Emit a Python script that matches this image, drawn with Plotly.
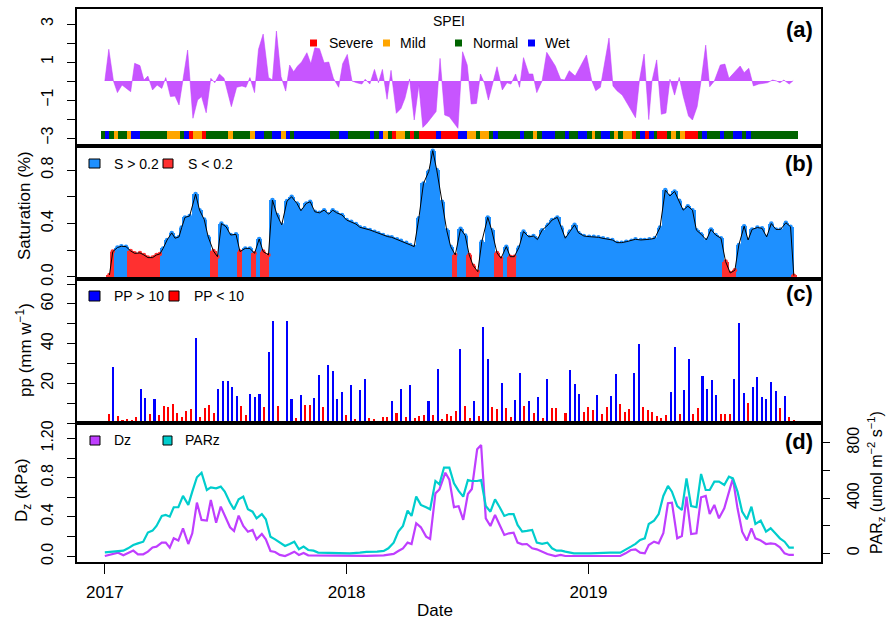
import pandas as pd
import plotly.graph_objects as go
from plotly.subplots import make_subplots

T0 = pd.Timestamp("2017-01-01")
DAY_MS = 86400000

def to_dates(days):
    return [T0 + pd.Timedelta(days=float(d)) for d in days]

# ---------------- (a) SPEI (days since 2017-01-01, value) ----------------
spei_day = [0, 6, 13, 19, 26, 33, 39, 45, 53, 59, 65, 72, 79, 86, 92, 99, 106, 112, 125, 133,
            140, 146, 153, 160, 166, 173, 180, 191, 199, 207, 213, 219, 226, 232, 239, 247, 253, 259,
            266, 273, 279, 285, 291, 297, 305, 311, 317, 324, 331, 338, 345, 353, 359, 366, 373, 380,
            388, 393, 400, 407, 413, 419, 426, 432, 440, 447, 453, 460, 467, 474, 480, 486, 494, 500,
            506, 513, 520, 527, 533, 540, 547, 553, 561, 567, 573, 579, 592, 600, 607, 613, 620, 626,
            632, 640, 646, 652, 660, 667, 680, 688, 694, 701, 710, 727, 735, 741, 748, 761, 767, 773,
            781, 789, 801, 807, 814, 821, 826, 833, 840, 847, 853, 860, 867, 873, 881, 887, 894, 900,
            907, 913, 920, 929, 936, 942, 950, 959, 965, 972, 979, 987, 1000, 1008, 1014, 1019, 1025,
            1033, 1039]
spei_val = [0.0, 1.67, 0.0, -0.61, -0.21, -0.39, -0.56, 0.93, 0.81, 0.05, 0.26, -0.47, -0.21, -0.39,
            0.18, -0.82, -0.79, -1.26, 1.63, -1.96, -1.0, -0.82, -1.67, 0.14, -0.09, 0.37, 0.14, -1.35,
            -0.33, -0.26, -0.33, 0.18, -0.61, 1.67, 2.47, 0.19, 0.05, 2.63, 0.23, -0.53, 0.84, 0.49,
            0.79, 1.0, 1.49, 0.91, 1.75, 1.7, 0.96, 1.0, 0.14, -0.33, 0.91, 1.4, 0.0, -0.09, -0.16,
            0.09, -0.16, 0.61, -0.09, 0.61, -0.96, 0.56, -1.7, -1.44, -0.91, 0.11, -2.05, -0.21, -2.44,
            -2.23, -1.88, -1.61, 1.19, -1.79, -1.88, -2.19, -2.49, 1.54, 0.84, -1.21, -1.18, 0.37,
            -0.12, -1.0, 0.75, -0.47, -0.09, -0.16, 0.37, -0.33, 1.23, 0.37, 0.37, -0.61, 0.0, 1.51,
            0.79, 0.09, 0.05, 0.54, 0.26, 1.37, 0.02, -0.51, -0.33, 2.26, -0.26, -0.51, -0.74, -1.21,
            -1.93, 0.05, 1.42, -2.03, 0.02, 1.11, -1.75, -1.68, 0.09, -0.74, 0.19, -0.79, -1.84, -2.05,
            -1.35, 0.02, 1.89, -0.3, 0.0, 0.84, 0.89, 0.14, 0.44, 0.79, 0.44, 0.67, -0.26, -0.16,
            -0.09, 0.05, 0.0, -0.09, 0.05, -0.16, 0.02]

# SPEI class strip: start day of each run and its class
strip_start = [-6.5, 0, 6.5, 13.6, 19.6, 32.8, 39.3, 52.9, 93.3, 113.4, 119.4, 127, 133, 146.6, 152.7,
               185.9, 193.5, 219.2, 226.7, 240.3, 252.4, 266, 273.6, 279.6, 285.7, 340, 353.7, 367.3,
               400.5, 406.6, 414.2, 420.2, 427.8, 433.8, 439.9, 453.5, 461, 467.1, 474.7, 500.4, 507.9,
               533.6, 547.2, 560.8, 566.9, 580.4, 586.5, 594, 627.3, 633.3, 646.9, 653, 660.5, 680.2,
               695.3, 701.3, 714.9, 728.5, 734.6, 740.6, 748.2, 761.8, 767.8, 773.9, 781.4, 795, 801,
               807.1, 814.6, 820.7, 828.2, 834.2, 847.8, 853.9, 861.4, 867.5, 875, 894.7, 900.7, 908.3,
               927.9, 934, 947.6, 961.2, 967.2, 974.8]
strip_end = 1045.8
strip_cat = ["Normal", "Wet", "Normal", "Mild", "Normal", "Mild", "Wet", "Normal", "Mild", "Normal",
             "Wet", "Severe", "Mild", "Severe", "Normal", "Mild", "Normal", "Mild", "Wet", "Normal",
             "Wet", "Mild", "Wet", "Normal", "Wet", "Normal", "Wet", "Normal", "Wet", "Normal",
             "Wet", "Mild", "Normal", "Severe", "Mild", "Normal", "Severe", "Normal", "Severe", "Wet",
             "Severe", "Wet", "Mild", "Normal", "Mild", "Normal", "Wet", "Normal", "Wet", "Normal",
             "Mild", "Normal", "Wet", "Normal", "Wet", "Normal", "Wet", "Normal", "Mild", "Normal",
             "Wet", "Normal", "Mild", "Normal", "Mild", "Severe", "Normal", "Wet", "Severe", "Wet",
             "Normal", "Severe", "Normal", "Mild", "Normal", "Mild", "Severe", "Normal", "Wet", "Normal",
             "Wet", "Normal", "Wet", "Normal", "Wet", "Normal"]
class_names = ["Severe", "Mild", "Normal", "Wet"]
class_colors = {"Severe": "#FF0000", "Mild": "#FFA500", "Normal": "#006400", "Wet": "#0000FF"}

# ---------------- (b) Saturation ----------------
sat_day = [7, 12, 19, 25, 32, 39, 45, 53, 59, 65, 72, 78, 83, 88, 94, 101, 106, 112, 116, 121, 128,
           137, 143, 150, 156, 164, 170, 176, 183, 190, 198, 204, 212, 219, 226, 233, 239, 247, 253,
           260, 267, 275, 282, 290, 296, 304, 310, 317, 324, 331, 338, 344, 350, 358, 365, 372, 379,
           385, 392, 400, 407, 413, 420, 427, 433, 441, 447, 455, 461, 467, 474, 481, 489, 495, 501,
           509, 516, 522, 529, 537, 544, 550, 556, 563, 569, 578, 584, 592, 598, 606, 612, 618, 625,
           632, 640, 647, 653, 660, 669, 675, 683, 689, 695, 702, 709, 715, 723, 731, 738, 745, 752,
           759, 766, 773, 780, 787, 795, 801, 809, 815, 822, 830, 838, 846, 853, 860, 867, 873, 880,
           887, 893, 900, 908, 915, 922, 930, 937, 944, 951, 957, 965, 971, 977, 985, 992, 999, 1006,
           1013, 1020, 1028, 1035, 1040]
sat_val = [0.015, 0.19, 0.22, 0.23, 0.227, 0.195, 0.177, 0.18, 0.165, 0.145, 0.145, 0.165, 0.172,
           0.214, 0.277, 0.33, 0.29, 0.3, 0.37, 0.446, 0.456, 0.62, 0.5, 0.43, 0.3, 0.194, 0.152,
           0.4, 0.376, 0.314, 0.319, 0.19, 0.214, 0.214, 0.177, 0.284, 0.19, 0.165, 0.576, 0.464,
           0.39, 0.568, 0.6, 0.55, 0.496, 0.55, 0.563, 0.488, 0.48, 0.5, 0.47, 0.5, 0.48, 0.464,
           0.426, 0.414, 0.396, 0.372, 0.364, 0.352, 0.339, 0.327, 0.314, 0.302, 0.297, 0.282,
           0.272, 0.257, 0.24, 0.227, 0.44, 0.70, 0.79, 0.945, 0.8, 0.563, 0.35, 0.227, 0.165,
           0.36, 0.31, 0.165, 0.085, 0.04, 0.264, 0.446, 0.35, 0.18, 0.14, 0.227, 0.152, 0.152,
           0.22, 0.34, 0.3, 0.306, 0.28, 0.35, 0.39, 0.426, 0.446, 0.37, 0.29, 0.34, 0.39, 0.33,
           0.307, 0.302, 0.302, 0.297, 0.289, 0.282, 0.277, 0.257, 0.257, 0.264, 0.272, 0.282,
           0.277, 0.277, 0.282, 0.289, 0.37, 0.65, 0.606, 0.64, 0.57, 0.5, 0.53, 0.5, 0.35, 0.32,
           0.277, 0.356, 0.314, 0.29, 0.115, 0.03, 0.05, 0.24, 0.38, 0.277, 0.356, 0.37, 0.364,
           0.3, 0.4, 0.356, 0.356, 0.406, 0.376, 0.01]
sat_threshold = 0.2

# ---------------- (c) Weekly precipitation ----------------
pp_first_day, pp_last_day = 6, 1040
pp_val = [4.5, 28.4, 3.5, 1.5, 2, 1.5, 3.2, 17, 12.4, 4.5,
          11.9, 4.2, 8.7, 8.2, 9.4, 5, 3, 6, 7.2, 43,
          3, 7.4, 9.2, 4.9, 17.3, 21, 21.2, 18, 13.8, 8.7,
          3.9, 14.6, 12.9, 14.6, 7.9, 35.6, 51.4, 8.6, 1.2, 51.4,
          11.9, 2.4, 14, 9.2, 8.9, 12.4, 24, 7.9, 29, 26.2,
          11.9, 15.8, 4, 19, 1.8, 16.5, 22.4, 2.5, 1.8, 1.2,
          2.9, 3, 10.9, 5.2, 17.3, 3.2, 19, 2.5, 3.4, 4.2,
          11.3, 3.9, 27.4, 2.2, 4.7, 3.5, 5.9, 37.5, 8.4, 2.7,
          11.3, 3.4,
          48.6, 32.1, 7.9, 6.9, 20, 7.6, 2.9, 11.8, 25, 8.4,
          11.3, 4.9, 12.9, 2.5, 22.2, 7.4, 7.7, 1.2, 5.2, 26.9,
          19.5, 14.5, 5.7, 7.9, 6.6, 14.1, 4.4, 7.9, 13.4, 24.9,
          9.6, 5.5, 7.2, 25, 40, 8.1, 6.7, 5.5, 3.4, 2.5,
          3.9, 15.6, 38.2, 4.5, 16.8, 32.1, 4.5, 7.6, 23.7, 17,
          21.8, 14.3, 4.5, 4.5, 4.5, 22.4, 50.4, 15.3, 9.9, 18.3,
          23.4, 12.9, 11.9, 20.5, 16.3, 7.6, 13.4, 3, 1.3]
pp_threshold = 10

# ---------------- (d) Dz and PARz ----------------
dz_day = [0, 20, 28, 43, 50, 58, 65, 72, 78, 86, 92, 98, 104, 111, 118, 126, 132, 139, 146, 154, 160,
          168, 175, 181, 189, 195, 202, 209, 216, 223, 229, 237, 243, 250, 257, 264, 272, 279, 286,
          293, 300, 307, 345, 370, 395, 421, 428, 436, 443, 450, 457, 463, 470, 477, 485, 491, 499,
          505, 514, 520, 527, 534, 541, 548, 554, 562, 568, 575, 582, 589, 596, 603, 610, 617, 623,
          630, 637, 645, 652, 660, 668, 680, 688, 695, 733, 748, 756, 778, 786, 794, 801, 808, 815,
          821, 829, 836, 843, 850, 856, 864, 871, 878, 885, 893, 900, 907, 913, 920, 927, 935, 948,
          955, 962, 969, 976, 982, 990, 998, 1005, 1012, 1019, 1026, 1033, 1040]
dz_val = [0.003, 0.037, 0.01, 0.058, 0.02, 0.02, 0.047, 0.09, 0.098, 0.139, 0.139, 0.088, 0.183,
          0.16, 0.285, 0.125, 0.234, 0.546, 0.37, 0.363, 0.573, 0.342, 0.505, 0.42, 0.295, 0.258,
          0.414, 0.308, 0.25, 0.268, 0.173, 0.227, 0.173, 0.054, 0.044, 0.014, 0.003, 0.024, 0.047,
          0.014, 0.034, 0.01, 0.005, 0.003, 0.005, 0.01, 0.014, 0.024, 0.054, 0.081, 0.139, 0.125,
          0.336, 0.295, 0.2, 0.176, 0.64, 0.68, 0.85, 0.78, 0.5, 0.51, 0.37, 0.634, 0.685, 1.088,
          1.132, 0.386, 0.308, 0.42, 0.319, 0.217, 0.234, 0.24, 0.139, 0.122, 0.125, 0.081, 0.071,
          0.047, 0.024, 0.003, 0.014, 0.003, 0.003, 0.01, 0.003, 0.003, 0.03, 0.064, 0.071, 0.037,
          0.03, 0.115, 0.149, 0.132, 0.234, 0.54, 0.546, 0.183, 0.207, 0.607, 0.227, 0.234, 0.6,
          0.614, 0.43, 0.522, 0.386, 0.488, 0.793, 0.488, 0.25, 0.16, 0.285, 0.183, 0.16, 0.125,
          0.132, 0.125, 0.092, 0.03, 0.014, 0.014]
par_day = [0, 20, 28, 35, 43, 50, 58, 65, 72, 78, 86, 92, 98, 104, 111, 118, 126, 132, 139, 146, 154,
           160, 168, 175, 181, 189, 195, 202, 209, 216, 223, 229, 237, 243, 250, 257, 264, 272, 279,
           286, 293, 300, 307, 315, 322, 345, 370, 385, 395, 411, 421, 428, 436, 443, 450, 457, 463,
           470, 477, 485, 491, 499, 505, 512, 520, 527, 534, 541, 548, 554, 562, 568, 575, 582, 589,
           596, 603, 610, 617, 623, 630, 637, 645, 652, 660, 668, 675, 682, 689, 695, 708, 733, 748,
           763, 778, 786, 794, 801, 808, 815, 821, 829, 836, 843, 850, 856, 864, 871, 878, 885, 893,
           900, 907, 913, 920, 927, 935, 942, 948, 955, 962, 969, 976, 982, 990, 998, 1005, 1012,
           1019, 1026, 1033, 1040]
par_val = [7, 17, 19, 36, 60, 72, 84, 150, 164, 198, 270, 277, 265, 333, 333, 415, 350, 446, 550, 583,
           458, 477, 470, 482, 446, 366, 318, 390, 410, 318, 301, 253, 284, 246, 120, 101, 77, 53, 68,
           84, 29, 48, 24, 19, 5, 0, 0, 5, 10, 12, 17, 36, 77, 157, 198, 309, 270, 410, 350, 333, 318,
           523, 499, 620, 620, 506, 451, 410, 530, 523, 523, 530, 342, 301, 390, 333, 270, 284, 284,
           205, 157, 162, 169, 77, 68, 77, 36, 19, 19, 12, 0, 0, 5, 5, 5, 24, 48, 68, 96, 108, 212,
           236, 284, 415, 487, 446, 342, 313, 542, 342, 333, 574, 458, 458, 518, 518, 494, 554, 542,
           446, 301, 246, 337, 212, 236, 157, 181, 145, 108, 84, 41, 41]

year_ticks = ["2017-01-01", "2018-01-01", "2019-01-01"]
year_labels = ["2017", "2018", "2019"]

# ---------------- figure ----------------
W, H = 888, 621
ML, MR, MT, MB = 77, 67, 9, 59
FONT = "Liberation Sans, Arial, sans-serif"
PURPLE = "#BF3EFF"
TEAL = "#00CDCD"

fig = make_subplots(rows=4, cols=1, shared_xaxes=True, vertical_spacing=0,
                    row_heights=[137, 133, 144, 139],
                    specs=[[{}], [{}], [{}], [{"secondary_y": True}]])

# (a)
strip_bounds = strip_start + [strip_end]
strip_dur = [strip_bounds[i + 1] - strip_bounds[i] for i in range(len(strip_start))]
strip_mid = [strip_start[i] + strip_dur[i] / 2 for i in range(len(strip_start))]
fig.add_trace(go.Bar(x=to_dates(strip_mid), y=[0.41] * len(strip_mid), base=-3.04,
                     width=[d * DAY_MS for d in strip_dur],
                     marker=dict(color=[class_colors[c] for c in strip_cat], line=dict(width=0)),
                     showlegend=False), row=1, col=1)
fig.add_trace(go.Scatter(x=to_dates(spei_day), y=spei_val, mode="lines", fill="tozeroy",
                         fillcolor="rgba(191,62,255,0.88)", line=dict(color="rgba(191,62,255,0.9)", width=0.6),
                         showlegend=False), row=1, col=1)

# (b)
sat_dates = to_dates(sat_day)
sat_colors = ["#1E90FF" if v >= sat_threshold else "#FF3030" for v in sat_val]
fig.add_trace(go.Bar(x=sat_dates, y=sat_val, width=[9.6 * DAY_MS] * len(sat_val),
                     marker=dict(color=sat_colors, line=dict(width=0)), showlegend=False), row=2, col=1)
fig.add_trace(go.Scatter(x=sat_dates, y=sat_val, mode="markers",
                         marker=dict(color=sat_colors, size=4.5), showlegend=False), row=2, col=1)
fig.add_trace(go.Scatter(x=sat_dates, y=sat_val, mode="lines", line=dict(color="black", width=1),
                         showlegend=False), row=2, col=1)

# (c)
pp_dates = pd.date_range(T0 + pd.Timedelta(days=pp_first_day), T0 + pd.Timedelta(days=pp_last_day),
                         periods=len(pp_val))
pp_colors = ["#0000FF" if v > pp_threshold else "#FF0000" for v in pp_val]
fig.add_trace(go.Bar(x=pp_dates, y=pp_val, width=[3.1 * DAY_MS] * len(pp_val),
                     marker=dict(color=pp_colors, line=dict(width=0)), showlegend=False), row=3, col=1)

# (d)
fig.add_trace(go.Scatter(x=to_dates(dz_day), y=dz_val, mode="lines",
                         line=dict(color=PURPLE, width=2.2), showlegend=False),
              row=4, col=1, secondary_y=False)
fig.add_trace(go.Scatter(x=to_dates(par_day), y=par_val, mode="lines",
                         line=dict(color=TEAL, width=2.2), showlegend=False),
              row=4, col=1, secondary_y=True)

# axes
xrange = ["2016-11-20", "2019-12-18"]
axline = dict(showline=True, linecolor="black", linewidth=1.6, mirror=True,
              showgrid=False, zeroline=False)
for r in range(1, 5):
    fig.update_xaxes(range=xrange, domain=[0, 1], ticks="", showticklabels=False, **axline, row=r, col=1)
fig.update_xaxes(tickvals=year_ticks, ticktext=year_labels, ticks="outside", ticklen=10,
                 tickwidth=1.3, tickcolor="black", showticklabels=True, ticklabelstandoff=4,
                 tickfont=dict(size=17, color="black", family=FONT), row=4, col=1)

ytick = dict(ticks="outside", ticklen=8, tickwidth=1.3, tickcolor="black", tickangle=-90,
             tickfont=dict(size=16, color="black", family=FONT))


def minor(vals):
    return dict(tickvals=vals, ticks="outside", ticklen=8, tickwidth=1.3, tickcolor="black", showgrid=False)


fig.update_yaxes(range=[-3.42, 3.79], tickvals=[-3, -1, 1, 3], ticktext=["−3", "−1", "1", "3"],
                 minor=minor([-2, 0, 2]), ticklabelstandoff=8, **ytick, **axline, row=1, col=1)
fig.update_yaxes(range=[-0.015, 0.98], tickvals=[0, 0.4, 0.8], ticktext=["0.0", "0.4", "0.8"],
                 minor=minor([0.2, 0.6]), ticklabelstandoff=8, **ytick, **axline, row=2, col=1)
fig.update_yaxes(range=[0, 72.6], tickvals=[20, 40, 60], ticktext=["20", "40", "60"],
                 minor=minor([0, 10, 30, 50, 70]), ticklabelstandoff=8, **ytick, **axline, row=3, col=1)
fig.update_yaxes(range=[-0.058, 1.356], tickvals=[0, 0.4, 0.8, 1.2], ticktext=["0.0", "0.4", "0.8", "1.20"],
                 minor=minor([0.2, 0.6, 1.0]), ticklabelstandoff=8, **ytick, **axline,
                 row=4, col=1, secondary_y=False)
fig.update_yaxes(range=[-63, 942.5], tickvals=[0, 400, 800], ticktext=["0", "400", "800"],
                 minor=minor([200, 600]), showgrid=False, zeroline=False, ticklabelstandoff=10,
                 showline=False, **ytick, row=4, col=1, secondary_y=True)


def PX(x):
    return (x - ML) / (W - ML - MR)


def PY(y):
    return (H - MB - y) / (H - MT - MB)


ann = []
shapes = []


def text(x, y, s, size=14, xanchor="left", angle=0, bold=False):
    ann.append(dict(x=PX(x), y=PY(y), xref="paper", yref="paper", text=("<b>%s</b>" % s) if bold else s,
                    showarrow=False, xanchor=xanchor, yanchor="middle", textangle=angle,
                    font=dict(size=size, color="black", family=FONT)))


def box(x0, y0, x1, y1, color, border=True):
    shapes.append(dict(type="rect", xref="paper", yref="paper", x0=PX(x0), x1=PX(x1), y0=PY(y1), y1=PY(y0),
                       fillcolor=color, line=dict(color="black" if border else color, width=1 if border else 0),
                       layer="above"))


# panel letters
for lab, yy in [("(a)", 30), ("(b)", 163), ("(c)", 293), ("(d)", 441)]:
    text(799, yy, lab, size=22, xanchor="center", bold=True)

# legend (a)
text(449, 21, "SPEI", size=14, xanchor="center")
for cls, sx, tx in zip(class_names, [310, 383, 455, 528], [327, 398, 471, 543]):
    box(sx, 39.5, sx + 7, 46.5, class_colors[cls], border=False)
    text(tx, 43, cls, size=14)

# legend (b)
box(89, 159, 100, 168, "#1E90FF")
text(112, 164, "S > 0.2", size=14)
box(163, 159, 173, 168, "#FF3030")
text(186, 164, "S < 0.2", size=14)

# legend (c)
box(89, 291, 100, 301, "#0000FF")
text(112, 296, "PP > 10", size=14)
box(169, 291, 179, 301, "#FF0000")
text(192, 296, "PP < 10", size=14)

# legend (d)
box(90, 436, 100, 445, PURPLE)
text(112, 440, "Dz", size=14)
box(163, 436, 172, 445, TEAL)
text(183, 440, "PARz", size=14)

# axis titles
text(24, 205, "Saturation (%)", size=17, xanchor="center", angle=-90)
text(24, 350, "pp (mm w<sup>−1</sup>)", size=17, xanchor="center", angle=-90)
text(23, 490, "D<sub>z</sub> (kPa)", size=17, xanchor="center", angle=-90)
text(876, 483, "PAR<sub>z</sub> (umol m<sup>−2</sup> s<sup>−1</sup>)", size=16, xanchor="center", angle=-90)
text(435, 610, "Date", size=17, xanchor="center")

fig.update_layout(width=W, height=H, margin=dict(l=ML, r=MR, t=MT, b=MB, autoexpand=False),
                  plot_bgcolor="white", paper_bgcolor="white", barmode="overlay", bargap=0,
                  showlegend=False, annotations=ann, shapes=shapes,
                  font=dict(family=FONT, color="black"))

fig.write_html("out.html", config={"displayModeBar": False},
               post_script="document.body.style.margin='0px';")
